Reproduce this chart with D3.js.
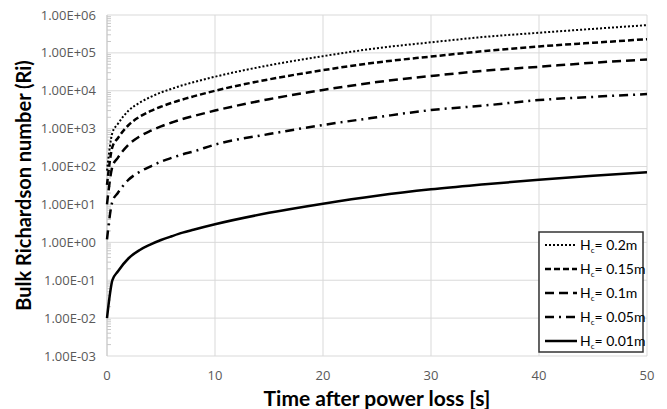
<!DOCTYPE html>
<html lang="en">
<head>
    <meta charset="UTF-8">
    <title></title>
    <style>
        body { margin: 0; background: #fff; }
        svg text { font-family: Lato, "Open Sans", sans-serif; }
        svg text.tick { font-family: "Open Sans", Lato, sans-serif; }
    </style>
</head>
<body>
<svg id="chart"></svg>
<script src="https://cdnjs.cloudflare.com/ajax/libs/d3/7.8.5/d3.min.js"></script>
<script>
    // time samples [s]
    var times = [0, 0.5, 1, 2, 3, 4, 5, 6, 7, 8, 10, 15, 20, 25, 30, 35, 40, 45, 50];

    // Bulk Richardson number, one array per Hc
    var ri020 = [78, 780, 1330, 3000, 4800, 6800, 9000, 11300, 14000, 16800, 23500, 47000, 82000, 133000, 190000, 265000, 340000, 430000, 540000];
    var ri015 = [33, 330, 560, 1250, 2050, 2900, 3800, 4800, 5900, 7100, 10000, 20000, 35000, 56000, 80000, 112000, 148000, 185000, 230000];
    var ri010 = [10, 100, 170, 380, 620, 870, 1150, 1450, 1800, 2150, 3000, 6000, 10500, 17000, 24500, 34000, 43000, 55000, 67000];
    var ri005 = [1.2, 12, 20, 45, 72, 100, 135, 170, 210, 250, 380, 720, 1250, 2000, 3100, 4100, 5700, 6900, 8200];
    var ri001 = [0.01, 0.1, 0.17, 0.38, 0.62, 0.87, 1.15, 1.45, 1.8, 2.15, 3.0, 6.0, 10.5, 17, 25, 34, 45, 57, 71];

    var seriesNames = ["0.2m", "0.15m", "0.1m", "0.05m", "0.01m"];
    var seriesValues = [ri020, ri015, ri010, ri005, ri001];
    var dashes = ["2 2", "6 3", "9 5", "9 5 2 5", null];
    var widths = [2, 2.5, 2.5, 2.5, 2.5];

    var xTicks = [0, 10, 20, 30, 40, 50];
    var yTicks = [1e-3, 1e-2, 1e-1, 1e0, 1e1, 1e2, 1e3, 1e4, 1e5, 1e6];

    var W = 667, H = 409;
    var m = {top: 15, right: 20, bottom: 53, left: 107};

    var svg = d3.select("#chart").attr("width", W).attr("height", H);

    var x = d3.scaleLinear().domain([0, 50]).range([m.left, W - m.right]);
    var y = d3.scaleLog().domain([1e-3, 1e6]).range([H - m.bottom, m.top]);

    // grid
    svg.append("g").selectAll("line.h").data(yTicks).enter().append("line")
        .attr("x1", x(0)).attr("x2", x(50))
        .attr("y1", function(d) { return y(d); }).attr("y2", function(d) { return y(d); })
        .attr("stroke", "#d9d9d9").attr("stroke-width", 1);
    svg.append("g").selectAll("line.v").data(xTicks).enter().append("line")
        .attr("x1", function(d) { return x(d); }).attr("x2", function(d) { return x(d); })
        .attr("y1", y(1e6)).attr("y2", y(1e-3))
        .attr("stroke", "#d9d9d9").attr("stroke-width", 1);

    // minor log ticks on the left axis
    var minor = [];
    yTicks.slice(0, -1).forEach(function(d) {
        for (var k = 2; k < 10; k++) minor.push(d * k);
    });
    svg.append("g").selectAll("line").data(minor).enter().append("line")
        .attr("x1", x(0)).attr("x2", x(0) + 4)
        .attr("y1", function(d) { return y(d); }).attr("y2", function(d) { return y(d); })
        .attr("stroke", "#c8c8c8").attr("stroke-width", 1);
    svg.append("line")
        .attr("x1", x(0)).attr("x2", x(0)).attr("y1", y(1e6)).attr("y2", y(1e-3))
        .attr("stroke", "#c8c8c8").attr("stroke-width", 1);

    // tick labels
    var fmt = function(d) {
        var e = Math.round(Math.log10(d));
        return "1.00E" + (e < 0 ? "-" : "+") + (Math.abs(e) < 10 ? "0" : "") + Math.abs(e);
    };
    svg.append("g").selectAll("text").data(yTicks).enter().append("text")
        .attr("class", "tick")
        .attr("x", 96).attr("y", function(d) { return y(d); }).attr("dy", "0.35em")
        .attr("text-anchor", "end").attr("font-size", 13).attr("fill", "#595959")
        .text(fmt);
    svg.append("g").selectAll("text").data(xTicks).enter().append("text")
        .attr("class", "tick")
        .attr("x", function(d) { return x(d); }).attr("y", 380)
        .attr("text-anchor", "middle").attr("font-size", 13).attr("fill", "#595959")
        .text(function(d) { return d; });

    // axis titles
    svg.append("text")
        .attr("x", (x(0) + x(50)) / 2).attr("y", 406)
        .attr("text-anchor", "middle").attr("font-size", 21).attr("font-weight", "bold")
        .attr("fill", "#000").text("Time after power loss [s]");
    svg.append("text")
        .attr("transform", "translate(31," + ((y(1e6) + y(1e-3)) / 2) + ") rotate(-90)")
        .attr("text-anchor", "middle").attr("font-size", 20).attr("font-weight", "bold")
        .attr("fill", "#000").text("Bulk Richardson number (Ri)");

    // lines
    var line = d3.line()
        .x(function(d) { return x(d[0]); })
        .y(function(d) { return y(d[1]); })
        .curve(d3.curveMonotoneX);

    seriesValues.forEach(function(vals, i) {
        svg.append("path")
            .datum(times.map(function(t, j) { return [t, vals[j]]; }))
            .attr("d", line)
            .attr("fill", "none").attr("stroke", "#000")
            .attr("stroke-width", widths[i])
            .attr("stroke-dasharray", dashes[i]);
    });

    // legend
    var lg = svg.append("g").attr("transform", "translate(539,232)");
    lg.append("rect").attr("width", 104).attr("height", 120)
        .attr("fill", "#fff").attr("stroke", "#333").attr("stroke-width", 1.5);
    seriesNames.forEach(function(name, i) {
        var row = lg.append("g").attr("transform", "translate(0," + (13 + i * 24) + ")");
        row.append("line").attr("x1", 6).attr("x2", 38)
            .attr("stroke", "#000").attr("stroke-width", widths[i])
            .attr("stroke-dasharray", dashes[i]);
        var t = row.append("text").attr("x", 41).attr("dy", "0.35em")
            .attr("font-size", 14).attr("fill", "#000");
        t.append("tspan").text("H");
        t.append("tspan").attr("font-size", 8).attr("dy", 3).text("c");
        t.append("tspan").attr("dy", -3).text("= " + name);
    });
</script>
</body>
</html>
